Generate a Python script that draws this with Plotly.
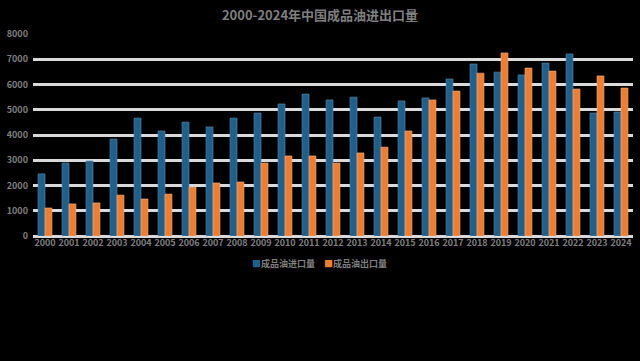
import plotly.graph_objects as go

years = [str(y) for y in range(2000, 2025)]
imports = [2460, 2890, 2970, 3840, 4670, 4160, 4510, 4320, 4670, 4870, 5230, 5620, 5390,
           5500, 4710, 5350, 5470, 6220, 6810, 6490, 6380, 6850, 7210, 4870, 4910]
exports = [1110, 1270, 1310, 1620, 1465, 1660, 1940, 2100, 2140, 2890, 3170, 3170, 2890,
           3290, 3520, 4160, 5390, 5740, 6450, 7250, 6650, 6530, 5820, 6340, 5860]
series_names = ["成品油进口量", "成品油出口量"]
series_colors = ["#1f5f8a", "#ed7d31"]
title_text = "2000-2024年中国成品油进出口量"

font_family = "Noto Sans CJK SC, Noto Sans, sans-serif"
gray = "#7f7f7f"

fig = go.Figure()
fig.add_trace(go.Bar(x=years, y=imports, name=series_names[0], showlegend=False,
                     marker=dict(color=series_colors[0], line=dict(color="#5a8fb5", width=0.6))))
fig.add_trace(go.Bar(x=years, y=exports, name=series_names[1], showlegend=False,
                     marker=dict(color=series_colors[1], line=dict(color="#f5b08a", width=0.6))))

# legend drawn as text annotations (compact spacing like the reference)
legend_x = [0.362, 0.482]
for name, col, lx in zip(series_names, series_colors, legend_x):
    fig.add_annotation(
        text=f"<span style='color:{col}'>■</span><b>{name}</b>",
        xref="paper", yref="paper", x=lx, y=-0.135, xanchor="left", yanchor="middle",
        showarrow=False, font=dict(family=font_family, size=9, color=gray))

fig.update_layout(
    width=640, height=361,
    paper_bgcolor="black", plot_bgcolor="black",
    margin=dict(l=31, r=7, t=34, b=125),
    barmode="group", bargap=0.42, bargroupgap=0.0,
    title=dict(text="<b>" + title_text + "</b>", x=0.5, xanchor="center", y=0.958, yanchor="middle",
               font=dict(family=font_family, size=13, color=gray)),
    font=dict(family=font_family, size=9, color=gray),
    showlegend=False,
)
fig.update_xaxes(type="category", showgrid=False, showline=False, ticks="",
                 tickfont=dict(family=font_family, size=9, color=gray, weight="bold"))
fig.update_yaxes(range=[0, 8000], dtick=1000, showgrid=True, gridcolor="#d9d9d9", gridwidth=3,
                 zeroline=True, zerolinecolor="#d9d9d9", zerolinewidth=3,
                 tickfont=dict(family=font_family, size=9, color=gray, weight="bold"), ticks="",
                 ticklabelstandoff=4)

fig.write_html("out.html")
